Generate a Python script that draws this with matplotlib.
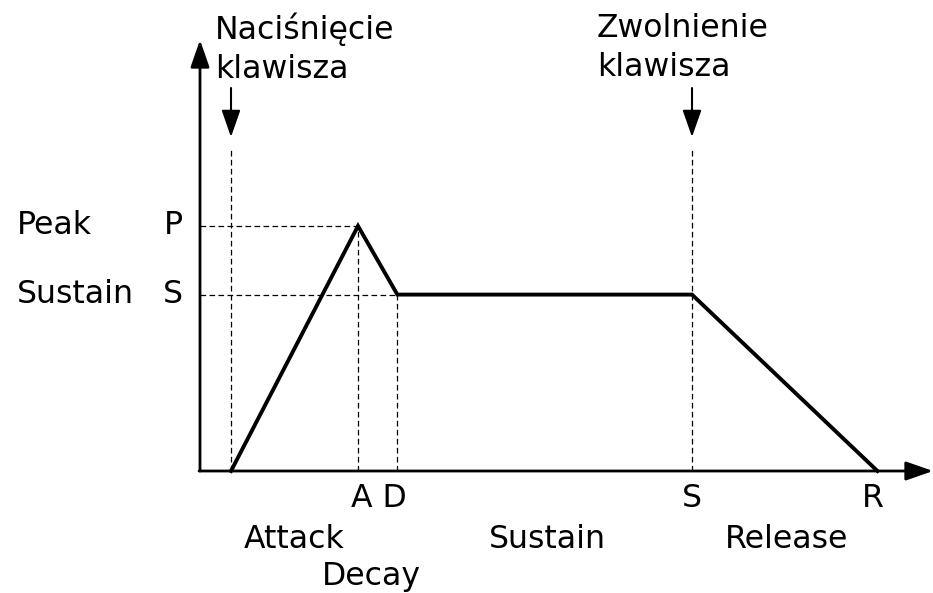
import matplotlib
matplotlib.use("Agg")
import matplotlib.pyplot as plt

# Envelope key points (time, level)
t_press = 0.0
t_attack = 1.0
t_decay = 1.31
t_sustain = 3.63
t_release = 5.09
peak_level = 1.0
sustain_level = 0.72

env_t = [t_press, t_attack, t_decay, t_sustain, t_release]
env_v = [0.0, peak_level, sustain_level, sustain_level, 0.0]

point_labels = ["A D", "S", "R"]
phase_labels = ["Attack", "Decay", "Sustain", "Release"]
level_names = ["Peak", "Sustain"]
level_letters = ["P", "S"]
event_labels = ["Naciśnięcie\nklawisza", "Zwolnienie\nklawisza"]

plt.rcParams['font.family'] = ['DejaVu Sans']
FS = 22.7

fig = plt.figure(figsize=(9.33, 5.93), dpi=100)
ax = fig.add_axes([0, 0, 1, 1])
ax.set_xlim(-231 / 127, 702 / 127)
ax.set_ylim(-122 / 245, 471 / 245)
ax.axis("off")

px = 1 / 127   # one pixel in x data units
py = 1 / 245   # one pixel in y data units

# axes with arrows
arrow = dict(arrowstyle="-|>,head_length=0.83,head_width=0.29", mutation_scale=20,
             lw=2.0, color="black", shrinkA=0, shrinkB=0)
y_axis_x = t_press - 31 * px
ax.annotate("", xy=(y_axis_x, 431 * py), xytext=(y_axis_x, 0), arrowprops=arrow)
ax.annotate("", xy=(702 * px, 0), xytext=(y_axis_x - 1 * px, 0), arrowprops=arrow)

# dashed guide lines
dash = dict(color="black", lw=0.9, linestyle=(0, (4.5, 2.7)))
ax.plot([t_press, t_press], [0, 323 * py], **dash)
ax.plot([t_sustain, t_sustain], [0, 323 * py], **dash)
ax.plot([t_attack, t_attack], [0, peak_level], **dash)
ax.plot([t_decay, t_decay], [0, sustain_level], **dash)
ax.plot([y_axis_x, t_attack], [peak_level, peak_level], **dash)
ax.plot([y_axis_x, t_decay], [sustain_level, sustain_level], **dash)

# envelope
ax.plot(env_t, env_v, color="black", lw=2.8, solid_joinstyle="miter")

# key event arrows and labels
down = dict(arrowstyle="-|>,head_length=0.83,head_width=0.29", mutation_scale=20,
            lw=1.5, color="black", shrinkA=0, shrinkB=0)
for t in [t_press, t_sustain]:
    ax.annotate("", xy=(t, 334 * py), xytext=(t, 383 * py), arrowprops=down)
ha_off = [-16 * px, -95 * px]
for t, lab, off in zip([t_press, t_sustain], event_labels, ha_off):
    ax.text(t + off, 458 * py, lab, fontsize=FS, ha="left", va="top", linespacing=1.32)

# level labels
for v, name, letter in zip([peak_level, sustain_level], level_names, level_letters):
    ax.text(-214 * px, v - 8 * py, name, fontsize=FS, ha="left", va="baseline")
    ax.text(-48 * px, v - 8 * py, letter, fontsize=FS, ha="right", va="baseline")

# point labels on time axis
point_x = [(t_attack + t_decay) / 2 + 1.5 * px, t_sustain, t_release - 5 * px]
for x, lab in zip(point_x, point_labels):
    ax.text(x, -36 * py, lab, fontsize=FS, ha="center", va="baseline")

# phase labels
phase_mid = [(t_press + t_attack) / 2, (t_attack + t_decay) / 2 - 6 * px,
             (t_decay + t_sustain) / 2 + 3 * px, (t_sustain + t_release) / 2 + 2 * px]
phase_y = [-77 * py, -114 * py, -77 * py, -77 * py]
for x, y, lab in zip(phase_mid, phase_y, phase_labels):
    ax.text(x, y, lab, fontsize=FS, ha="center", va="baseline")

fig.savefig("out.png", dpi=100, facecolor="white")
